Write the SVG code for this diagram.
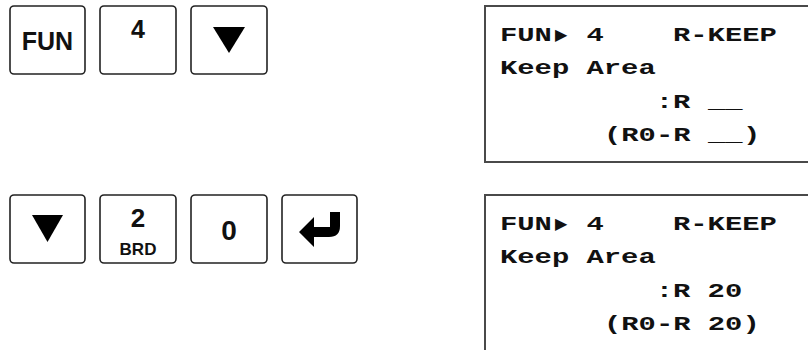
<svg xmlns="http://www.w3.org/2000/svg" width="808" height="350" viewBox="0 0 808 350">
<style>
.key{fill:#fff;stroke:#222;stroke-width:1.6}
.kt{font-family:"Liberation Sans",Arial,sans-serif;font-weight:bold;fill:#111;text-anchor:middle}
.lcd{fill:#fff;stroke:#4a4a4a;stroke-width:2}
.mono{font-family:"Liberation Mono","Courier New",monospace;font-weight:bold;font-size:21px;fill:#111;white-space:pre}
.sym{font-family:"DejaVu Sans",sans-serif;font-size:16px;fill:#111}
.glyph{fill:#000}
</style>
<rect width="808" height="350" fill="#fff"/>
<g id="key-fun">
<rect class="key" x="10" y="6" width="75" height="68" rx="4"/>
<text class="kt" x="47.5" y="50" font-size="25">FUN</text>
</g>
<g id="key-4">
<rect class="key" x="100" y="6" width="76" height="68" rx="4"/>
<text class="kt" x="138" y="38" font-size="25">4</text>
</g>
<g id="key-down-1">
<rect class="key" x="191" y="6" width="76" height="68" rx="4"/>
<path class="glyph" d="M213,27 L245,27 L229,53 Z"/>
</g>
<g id="key-down-2">
<rect class="key" x="10" y="195" width="75" height="68" rx="4"/>
<path class="glyph" d="M32,215 L63,215 L47.5,242 Z"/>
</g>
<g id="key-2-brd">
<rect class="key" x="100" y="195" width="76" height="68" rx="4"/>
<text class="kt" x="138" y="227" font-size="26">2</text>
<text class="kt" x="138" y="255" font-size="17">BRD</text>
</g>
<g id="key-0">
<rect class="key" x="191" y="195" width="76" height="68" rx="4"/>
<text class="kt" x="229" y="240" font-size="28">0</text>
</g>
<g id="key-enter">
<rect class="key" x="282" y="195" width="75" height="68" rx="4"/>
<path class="glyph" d="M340,212 L340,226 Q340,237 329,237 L314,237 L314,247 L299,232 L314,217 L314,227 L330,227 L330,212 Z"/>
</g>
<g id="display-1">
<rect class="lcd" x="485" y="6" width="340" height="156"/>
<text class="mono" x="500" y="41" textLength="51.9" lengthAdjust="spacingAndGlyphs">FUN</text>
<text class="sym" x="555" y="40">▶</text>
<text class="mono" x="586.5" y="41" textLength="17.3" lengthAdjust="spacingAndGlyphs">4</text>
<text class="mono" x="673" y="41" textLength="103.8" lengthAdjust="spacingAndGlyphs">R-KEEP</text>
<text class="mono" x="500" y="74" textLength="155.7" lengthAdjust="spacingAndGlyphs">Keep Area</text>
<text class="mono" x="655.7" y="108" textLength="34.6" lengthAdjust="spacingAndGlyphs">:R</text>
<text class="mono" x="708" y="108" textLength="34.6" lengthAdjust="spacingAndGlyphs">__</text>
<text class="mono" x="604" y="141" textLength="86.5" lengthAdjust="spacingAndGlyphs">(R0-R</text>
<text class="mono" x="708" y="141" textLength="34.6" lengthAdjust="spacingAndGlyphs">__</text>
<text class="mono" x="743" y="141" textLength="17.3" lengthAdjust="spacingAndGlyphs">)</text>
</g>
<g id="display-2">
<rect class="lcd" x="485" y="195" width="340" height="170"/>
<text class="mono" x="500" y="230" textLength="51.9" lengthAdjust="spacingAndGlyphs">FUN</text>
<text class="sym" x="555" y="229">▶</text>
<text class="mono" x="586.5" y="230" textLength="17.3" lengthAdjust="spacingAndGlyphs">4</text>
<text class="mono" x="673" y="230" textLength="103.8" lengthAdjust="spacingAndGlyphs">R-KEEP</text>
<text class="mono" x="500" y="263" textLength="155.7" lengthAdjust="spacingAndGlyphs">Keep Area</text>
<text class="mono" x="655.7" y="297" textLength="86.5" lengthAdjust="spacingAndGlyphs" xml:space="preserve">:R 20</text>
<text class="mono" x="604" y="330" textLength="155.7" lengthAdjust="spacingAndGlyphs" xml:space="preserve">(R0-R 20)</text>
</g>
</svg>
